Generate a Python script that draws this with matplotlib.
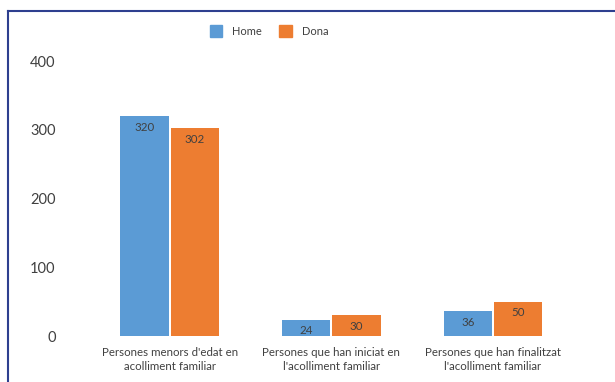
import matplotlib
matplotlib.use("Agg")
import matplotlib.pyplot as plt
import numpy as np
from matplotlib.lines import Line2D

categories = ["Persones menors d'edat en\nacolliment familiar",
              "Persones que han iniciat en\nl'acolliment familiar",
              "Persones que han finalitzat\nl'acolliment familiar"]
home = [320, 24, 36]
dona = [302, 30, 50]
series_names = ["Home", "Dona"]
yticks = [0, 100, 200, 300, 400]

plt.rcParams['font.family'] = ['Lato', 'DejaVu Sans']
blue = '#5B9BD5'
orange = '#ED7D31'
txt = '#404040'

fig = plt.figure(figsize=(6.15, 3.82), dpi=100)
ax = fig.add_axes([0.1447, 0.1204, 0.933 - 0.1447, 0.8403 - 0.1204])

x = np.arange(len(categories))
w = 0.30
gap = 0.006
b1 = ax.bar(x - w/2 - gap, home, width=w, color=blue, label=series_names[0])
b2 = ax.bar(x + w/2 + gap, dona, width=w, color=orange, label=series_names[1])

for bars in (b1, b2):
    for r in bars:
        ax.annotate(f"{int(r.get_height())}",
                    (r.get_x() + r.get_width()/2, r.get_height()),
                    xytext=(0, -11), textcoords='offset pixels',
                    ha='center', va='center', fontsize=8.3, color=txt)

ax.set_xlim(-0.5, 2.5)
ax.set_ylim(0, 400)
ax.set_yticks(yticks)
ax.set_yticklabels([str(t) for t in yticks], fontsize=10.5, color=txt)
ax.set_xticks(x)
ax.set_xticklabels(categories, fontsize=8.3, color=txt, linespacing=1.3)
ax.tick_params(axis='y', length=0, pad=24)
ax.tick_params(axis='x', length=0, pad=8)
for s in ax.spines.values():
    s.set_visible(False)

leg = fig.legend(handles=[plt.Rectangle((0, 0), 1, 1, color=blue),
                          plt.Rectangle((0, 0), 1, 1, color=orange)],
                 labels=series_names, loc='center', bbox_to_anchor=(269/615, 1 - 31/382),
                 ncol=2, frameon=False, fontsize=8, labelcolor=txt,
                 handlelength=1.1, handleheight=1.4, columnspacing=1.6, handletextpad=0.9)

# border lines (top and left)
fig.add_artist(Line2D([8/615, 1], [1 - 10.5/382, 1 - 10.5/382], transform=fig.transFigure,
                      color='#2E3F8F', lw=1.5))
fig.add_artist(Line2D([8/615, 8/615], [0, 1 - 10.5/382], transform=fig.transFigure,
                      color='#2E3F8F', lw=1.5))

fig.savefig("out.png", dpi=100)
